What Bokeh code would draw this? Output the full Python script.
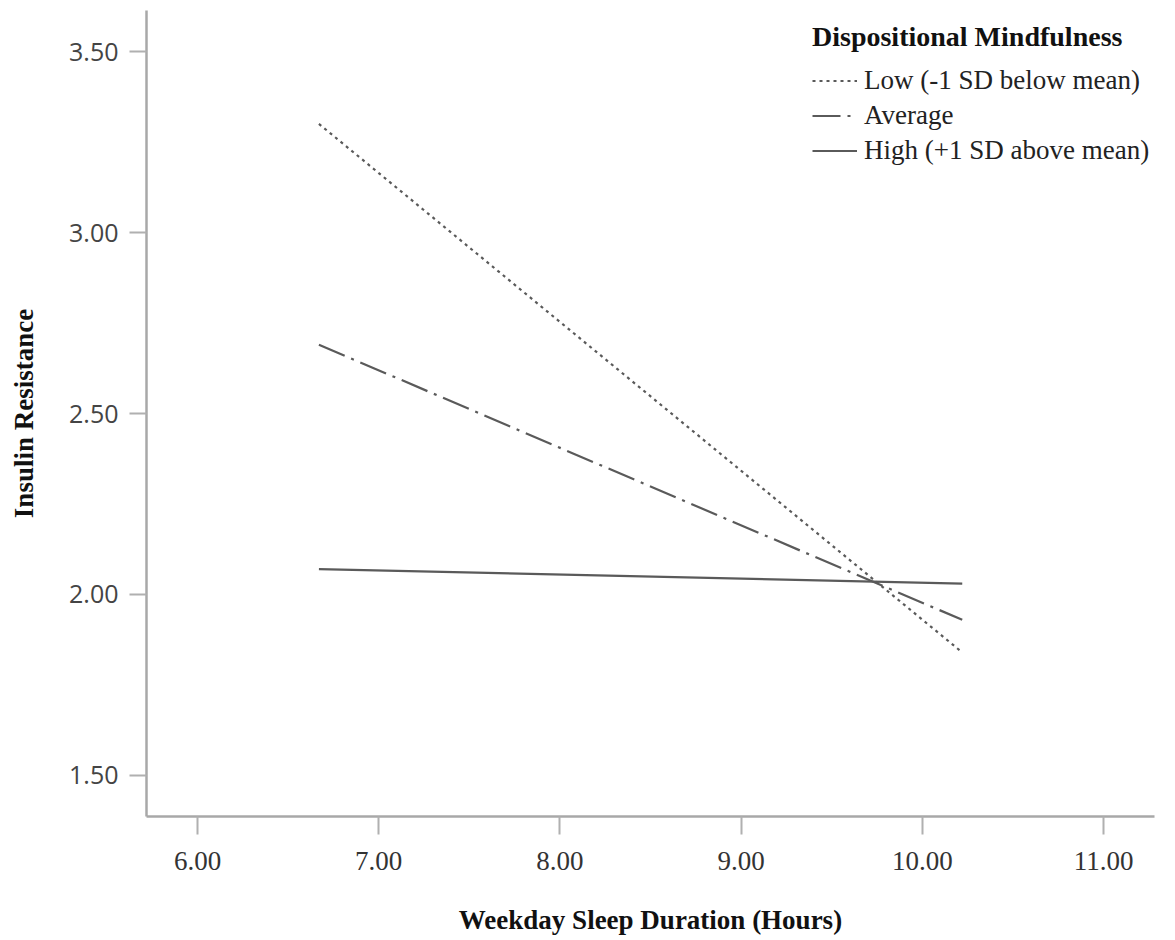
from bokeh.plotting import figure
from bokeh.models import Range1d, FixedTicker, NumeralTickFormatter, Legend, LegendItem
from bokeh.embed import file_html
from bokeh.resources import INLINE

# ---- data ----
sleep_hours = [6.67, 10.22]
low_ir = [3.30, 1.84]
average_ir = [2.69, 1.93]
high_ir = [2.07, 2.03]
x_ticks = [6.0, 7.0, 8.0, 9.0, 10.0, 11.0]
y_ticks = [1.5, 2.0, 2.5, 3.0, 3.5]
series_labels = ["Low (-1 SD below mean)", "Average", "High (+1 SD above mean)"]
legend_title = "Dispositional Mindfulness"
x_title = "Weekday Sleep Duration (Hours)"
y_title = "Insulin Resistance"

SERIF = "Liberation Serif"
SANS = "Open Sans"
LINE_COLOR = "#5a5a5a"

p = figure(
    width=1175, height=940,
    output_backend="svg", toolbar_location=None,
    x_range=Range1d(5.7185, 11.281), y_range=Range1d(1.3867, 3.6133),
    min_border_left=146, min_border_right=21, min_border_top=10, min_border_bottom=124,
)
p.outline_line_color = None
p.xgrid.grid_line_color = None
p.ygrid.grid_line_color = None
p.background_fill_color = "white"
p.border_fill_color = "white"

r_low = p.line(sleep_hours, low_ir, line_color=LINE_COLOR, line_width=2.2, line_dash="3 4")
r_avg = p.line(sleep_hours, average_ir, line_color=LINE_COLOR, line_width=2.2, line_dash="28 7 3 7")
r_high = p.line(sleep_hours, high_ir, line_color=LINE_COLOR, line_width=2.2)

# axes
p.xaxis.ticker = FixedTicker(ticks=x_ticks)
p.yaxis.ticker = FixedTicker(ticks=y_ticks)
p.xaxis.formatter = NumeralTickFormatter(format="0.00")
p.yaxis.formatter = NumeralTickFormatter(format="0.00")
for ax in (p.xaxis, p.yaxis):
    ax.axis_line_color = "#a8a8a8"
    ax.axis_line_width = 2.5
    ax.major_tick_line_color = "#b0b0b0"
    ax.major_tick_line_width = 2
    ax.major_tick_in = 0
    ax.minor_tick_line_color = None
    ax.axis_label_text_font = SERIF
    ax.axis_label_text_font_style = "bold"
    ax.axis_label_text_font_size = "27px"
    ax.axis_label_text_color = "#111111"

p.xaxis.major_tick_out = 18
p.xaxis.major_label_standoff = 17
p.xaxis.major_label_text_font = SERIF
p.xaxis.major_label_text_font_size = "27px"
p.xaxis.major_label_text_color = "#333333"
p.xaxis.axis_label = x_title
p.xaxis.axis_label_standoff = 32

p.yaxis.major_tick_out = 17
p.yaxis.major_label_standoff = 11
p.yaxis.major_label_text_font = SANS
p.yaxis.major_label_text_font_size = "25px"
p.yaxis.major_label_text_color = "#444444"
p.yaxis.axis_label = y_title
p.yaxis.axis_label_standoff = 27

legend = Legend(
    items=[
        LegendItem(label=series_labels[0], renderers=[r_low]),
        LegendItem(label=series_labels[1], renderers=[r_avg]),
        LegendItem(label=series_labels[2], renderers=[r_high]),
    ],
    title=legend_title,
    location=(666, 648),
    margin=0, padding=0,
    spacing=0,
    glyph_width=45, glyph_height=35, label_height=35,
    label_standoff=7,
    title_standoff=10,
    background_fill_alpha=0, border_line_alpha=0,
)
legend.title_text_font = SERIF
legend.title_text_font_style = "bold"
legend.title_text_font_size = "28px"
legend.title_text_color = "#111111"
legend.label_text_font = SERIF
legend.label_text_font_size = "27px"
legend.label_text_color = "#222222"
p.add_layout(legend)

open("out.html", "w").write(file_html(p, INLINE))
